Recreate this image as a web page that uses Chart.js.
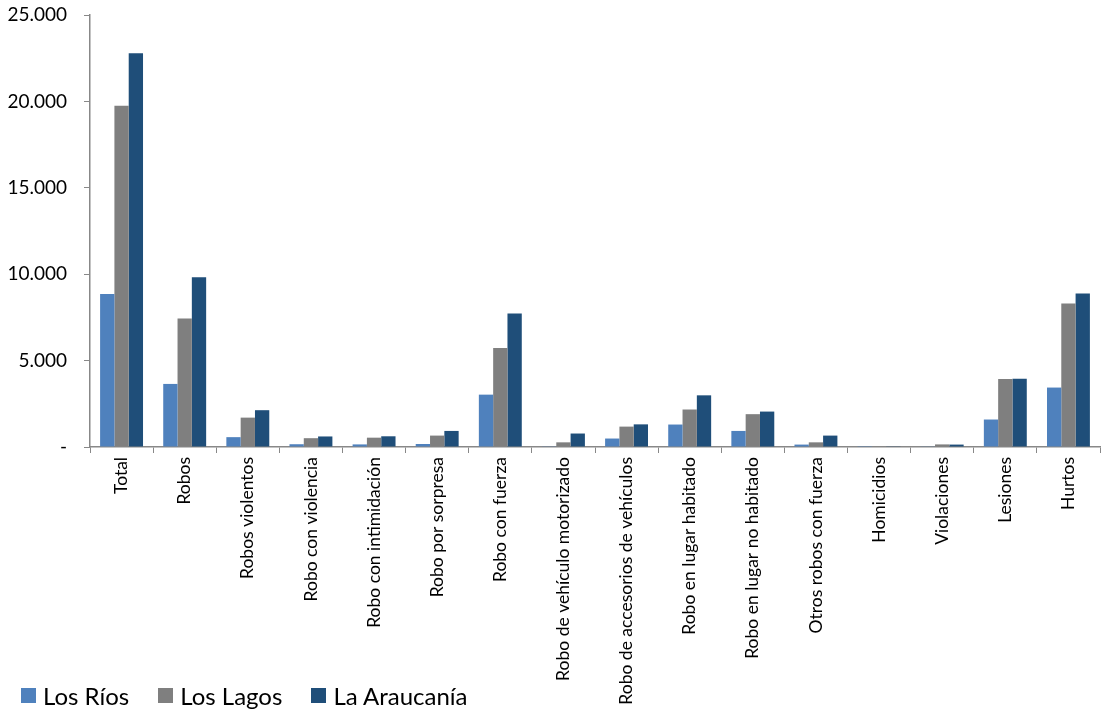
<!DOCTYPE html>
<html>
<head>
<meta charset="utf-8">
<script src="https://cdn.jsdelivr.net/npm/chart.js@4/dist/chart.umd.min.js"></script>
<style>
  html, body { margin: 0; padding: 0; background: #fff; }
  #wrap { position: relative; width: 1103px; height: 709px; }
  #legend {
    position: absolute; left: 21px; top: 681px;
    font-family: Lato, 'Open Sans', sans-serif; font-size: 24px; color: #000;
    display: flex; align-items: center; white-space: nowrap;
  }
  .item { display: flex; align-items: center; margin-right: 29px; }
  .dot { width: 15px; height: 15px; margin-right: 7px; display: inline-block; }
</style>
</head>
<body>
<div id="wrap">
  <canvas id="chart" width="1103" height="709"></canvas>
  <div id="legend"></div>
</div>
<script>
const categories = [
  'Total', 'Robos', 'Robos violentos', 'Robo con violencia', 'Robo con intimidación',
  'Robo por sorpresa', 'Robo con fuerza', 'Robo de vehículo motorizado',
  'Robo de accesorios de vehículos', 'Robo en lugar habitado', 'Robo en lugar no habitado',
  'Otros robos con fuerza', 'Homicidios', 'Violaciones', 'Lesiones', 'Hurtos'
];
const losRios =     [8850, 3650,  570, 160, 150, 175, 3030,  40,  490, 1300,  930, 140, 10,  20, 1590, 3440];
const losLagos =    [19750, 7430, 1700, 510, 540, 660, 5730, 270, 1180, 2170, 1900, 270, 40, 150, 3930, 8300];
const laAraucania = [22780, 9830, 2130, 610, 620, 930, 7720, 780, 1310, 2990, 2050, 660, 40, 140, 3950, 8880];
const yTicks = [0, 5000, 10000, 15000, 20000, 25000];

const seriesNames = ['Los Ríos', 'Los Lagos', 'La Araucanía'];
const seriesColors = ['#4F81BD', '#7F7F7F', '#1F4E79'];

function fmt(v) {
    if (v === 0) return '-';
    return String(v).replace(/\B(?=(\d{3})+(?!\d))/g, '.');
}

const font = 'Lato, "Open Sans", sans-serif';

new Chart(document.getElementById('chart'), {
    type: 'bar',
    data: {
        labels: categories,
        datasets: [losRios, losLagos, laAraucania].map((d, i) => ({
            label: seriesNames[i],
            data: d,
            backgroundColor: seriesColors[i],
            categoryPercentage: 0.68,
            barPercentage: 1.0
        }))
    },
    options: {
        responsive: false,
        animation: false,
        layout: { padding: { top: 15, right: 3, left: 0, bottom: 0 } },
        plugins: { legend: { display: false }, tooltip: { enabled: false } },
        scales: {
            x: {
                grid: { display: true, drawOnChartArea: false, drawTicks: true, tickLength: 6, color: '#888' },
                border: { color: '#888', width: 1.5 },
                ticks: {
                    minRotation: 90, maxRotation: 90, autoSkip: false,
                    color: '#000', font: { family: font, size: 17.5 }, padding: 4
                },
                afterFit: s => { s.height = 709 - 447; s.paddingLeft = 0; s.paddingRight = 0; }
            },
            y: {
                min: 0, max: 25000,
                afterBuildTicks: s => { s.ticks = yTicks.map(v => ({ value: v })); },
                grid: { display: true, drawOnChartArea: false, drawTicks: true, tickLength: 6, color: '#888' },
                border: { color: '#888', width: 1.5 },
                ticks: {
                    color: '#000', font: { family: font, size: 19 }, padding: 17,
                    callback: v => fmt(v)
                },
                afterFit: s => { s.width = 90; s.paddingTop = 0; s.paddingBottom = 0; }
            }
        }
    }
});

const legendEl = document.getElementById('legend');
legendEl.innerHTML = seriesNames.map((n, i) =>
    `<span class="item"><span class="dot" style="background:${seriesColors[i]}"></span>${n}</span>`
).join('');
</script>
</body>
</html>
